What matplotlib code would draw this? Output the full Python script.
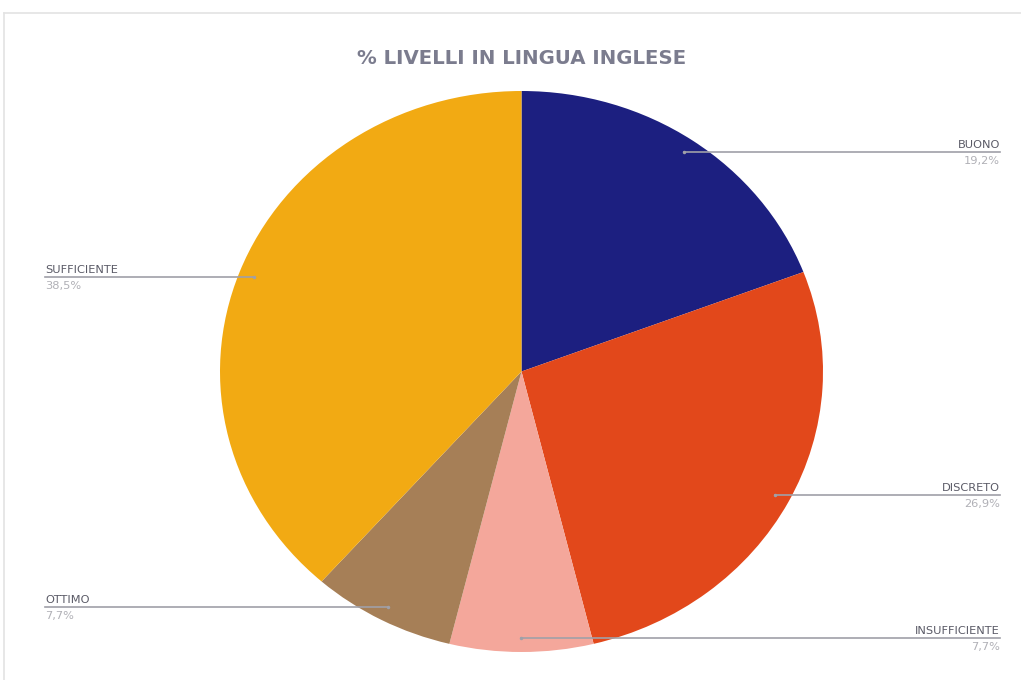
import numpy as np
import matplotlib
matplotlib.use("Agg")
import matplotlib.pyplot as plt
from matplotlib.lines import Line2D

# Data
categories = ["BUONO", "DISCRETO", "INSUFFICIENTE", "OTTIMO", "SUFFICIENTE"]
counts = [5, 7, 2, 2, 10]
pct_labels = ["19,2%", "26,9%", "7,7%", "7,7%", "38,5%"]
colors = ["#1c1f80", "#e2481b", "#f4a79b", "#a67f57", "#f2aa13"]
title = "% LIVELLI IN LINGUA INGLESE"

W, H = 1021, 680
fig = plt.figure(figsize=(W / 100, H / 100), dpi=100)
fig.patch.set_facecolor("white")

# Outer card border (top and left edges)
fig.add_artist(Line2D([4 / W, 1], [1 - 13 / H, 1 - 13 / H], color="#e3e3e3", lw=1.2))
fig.add_artist(Line2D([4 / W, 4 / W], [0, 1 - 13 / H], color="#e3e3e3", lw=1.2))

# Pie area (slightly wider than tall)
left, right, top, bottom = 220, 823, 91, 652
ax = fig.add_axes([left / W, 1 - bottom / H, (right - left) / W, (bottom - top) / H])
wedges, _ = ax.pie(counts, colors=colors, startangle=90, counterclock=False,
                   radius=1.0, wedgeprops=dict(linewidth=0))
ax.set_xlim(-1, 1)
ax.set_ylim(-1, 1)
ax.set_aspect("auto")
ax.axis("off")

fig.text(522 / W, 1 - 58 / H, title, ha="center", va="center",
         fontsize=14.2, fontweight="bold", color="#7b7c8e")

# Leader lines and labels
to_fig = lambda xy: fig.transFigure.inverted().transform(ax.transData.transform(xy))
r_anchor = 0.95
for w, name, pct in zip(wedges, categories, pct_labels):
    mid = np.deg2rad((w.theta1 + w.theta2) / 2)
    ax_pt = (r_anchor * np.cos(mid), r_anchor * np.sin(mid))
    fx, fy = to_fig(ax_pt)
    if fx > 0.5:
        end = 1000 / W
        ha = "right"
    else:
        end = 45 / W
        ha = "left"
    fig.add_artist(Line2D([fx, end], [fy, fy], color="#a0a0a8", lw=1.2))
    fig.add_artist(Line2D([fx], [fy], marker="o", ms=2.5, color="#a0a0a8", mec="none"))
    fig.text(end, fy + 7 / H, name, ha=ha, va="center", fontsize=8.2, color="#5a5a66")
    fig.text(end, fy - 9 / H, pct, ha=ha, va="center", fontsize=8.2, color="#b0b0b6")

fig.savefig("out.png", dpi=100)
